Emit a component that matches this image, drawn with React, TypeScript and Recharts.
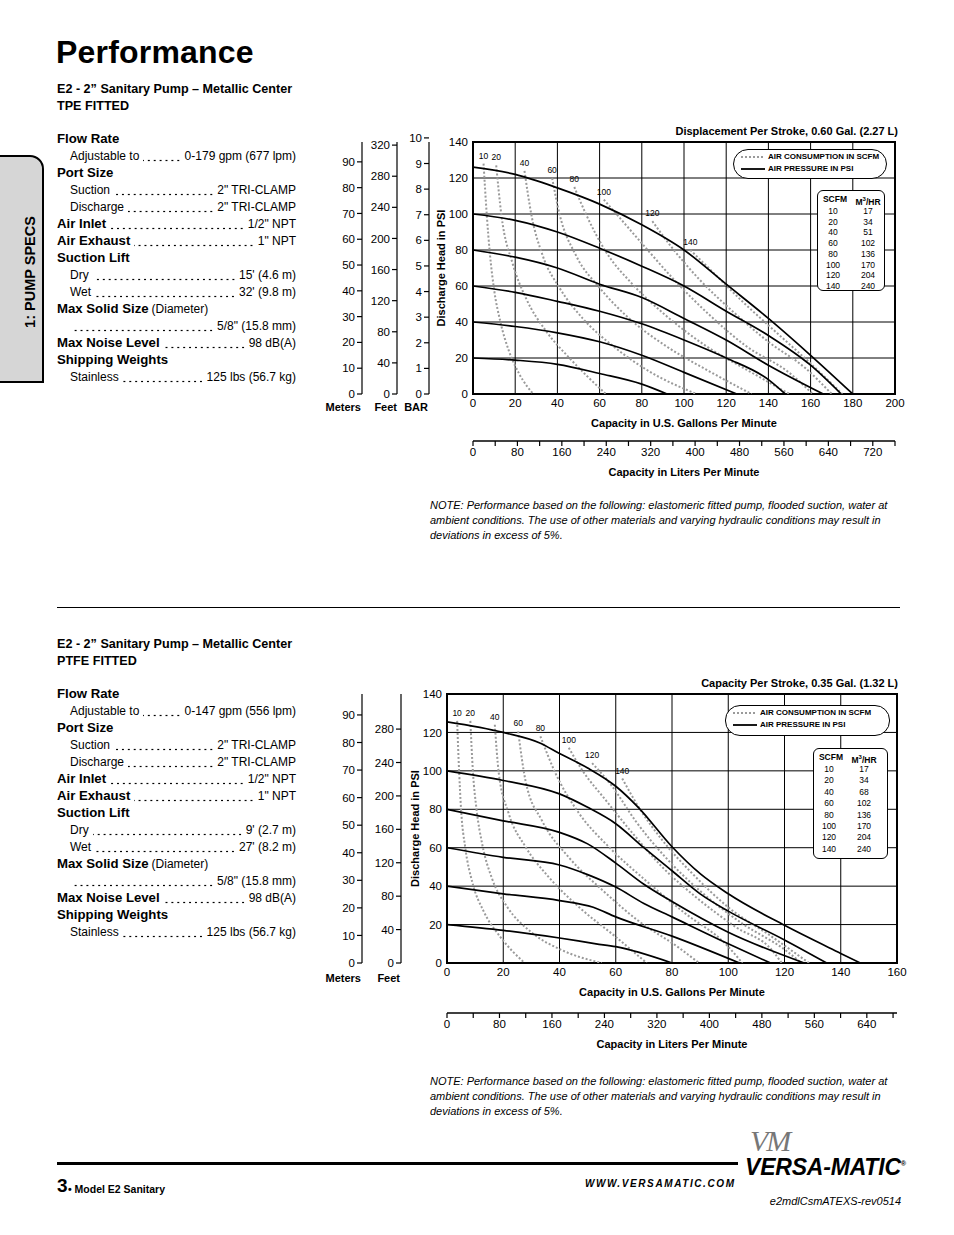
import React from 'react';
import { ComposedChart, Line, XAxis, YAxis, CartesianGrid, ReferenceArea } from 'recharts';

type Pt = [number, number];

const NARROW = '"Liberation Sans Narrow", "Arial Narrow", "Liberation Sans", Arial, sans-serif';
const SANS = '"Liberation Sans", Arial, Helvetica, sans-serif';

// ---------- axis ticks ----------
const psiTicks = [0, 20, 40, 60, 80, 100, 120, 140];
const meterTicks = [0, 10, 20, 30, 40, 50, 60, 70, 80, 90];
const feetTicksTPE = [0, 40, 80, 120, 160, 200, 240, 280, 320];
const feetTicksPTFE = [0, 40, 80, 120, 160, 200, 240, 280];
const barTicks = [0, 1, 2, 3, 4, 5, 6, 7, 8, 9, 10];
const gpmTicksTPE = [0, 20, 40, 60, 80, 100, 120, 140, 160, 180, 200];
const gpmTicksPTFE = [0, 20, 40, 60, 80, 100, 120, 140, 160];
const lpmTicksTPE = [0, 40, 80, 120, 160, 200, 240, 280, 320, 360, 400, 440, 480, 520, 560, 600, 640, 680, 720, 760];
const lpmTicksPTFE = [0, 40, 80, 120, 160, 200, 240, 280, 320, 360, 400, 440, 480, 520, 560, 600, 640, 680];

// ---------- TPE fitted: air pressure curves (gpm, psi) ----------
const tpePsi120: Pt[] = [[0, 126], [20, 122], [40, 114.5], [60, 105.5], [80, 94], [100, 80], [120, 61], [140, 42], [160, 21.5], [180, 0]];
const tpePsi100: Pt[] = [[0, 100], [20, 96.5], [40, 90], [60, 81], [80, 71], [100, 60], [120, 46], [140, 32.5], [160, 16], [174.5, 0]];
const tpePsi80: Pt[] = [[0, 80], [20, 76], [40, 70], [60, 61], [80, 53.6], [100, 42], [120, 30], [140, 16], [166, 0]];
const tpePsi60: Pt[] = [[0, 60], [20, 56.5], [40, 51.5], [60, 46], [80, 39], [100, 30], [120, 20], [140, 8], [148, 0]];
const tpePsi40: Pt[] = [[0, 40], [20, 37.5], [40, 34], [60, 29], [80, 21.5], [100, 12], [125, 0]];
const tpePsi20: Pt[] = [[0, 20], [20, 18.8], [40, 16.5], [60, 11.4], [80, 5.5], [92, 0]];

// ---------- TPE fitted: air consumption curves (gpm, psi) ----------
const tpeScfm10: Pt[] = [[5, 128], [6.5, 100], [8, 78], [10, 58], [13, 40], [17, 24], [22, 11], [28.5, 0]];
const tpeScfm20: Pt[] = [[11, 127], [13.4, 100], [18.9, 72], [25.2, 53], [34.6, 35], [45.7, 20], [54, 10], [63, 0]];
const tpeScfm40: Pt[] = [[24.4, 124], [27.6, 100], [33, 77], [41, 59], [52, 42], [66, 27], [83.5, 12.6], [106, 0]];
const tpeScfm60: Pt[] = [[37.5, 120], [41, 100], [48.8, 77], [60, 59], [74, 42], [91, 27], [112, 12.6], [132, 0]];
const tpeScfm80: Pt[] = [[48, 115], [53.5, 100], [63, 79], [75.6, 61], [91, 44], [110, 27], [131, 12.6], [150, 0]];
const tpeScfm100: Pt[] = [[62, 108], [72.4, 94], [83.5, 79], [96, 62.6], [112, 44], [129, 27], [150, 11.7], [161, 0]];
const tpeScfm120: Pt[] = [[85, 96], [94.5, 81], [107, 64], [123, 46], [140, 29], [157.5, 14.4], [170, 0]];
const tpeScfm140: Pt[] = [[103, 80], [113.4, 68], [127.6, 51.5], [143, 35], [159, 18], [175, 0]];

// ---------- PTFE fitted: air pressure curves ----------
const ptfePsi120: Pt[] = [[0, 125.5], [20, 120], [33, 114.5], [40, 109], [50, 101.5], [60, 92], [68, 81], [80, 60.5], [90, 46.5], [100, 36], [120, 19.6], [140, 5], [147, 0]];
const ptfePsi100: Pt[] = [[0, 100], [20, 95], [40, 88], [50, 81], [60, 72.5], [70, 60], [80, 48], [90, 36], [100, 27], [120, 12], [135, 0]];
const ptfePsi80: Pt[] = [[0, 80], [20, 74], [40, 68], [50, 62], [60, 52], [70, 41], [80, 32], [100, 16], [127, 0]];
const ptfePsi60: Pt[] = [[0, 60], [20, 55], [40, 51], [50, 46], [60, 39.5], [70, 31], [80, 24], [100, 10], [115, 0]];
const ptfePsi40: Pt[] = [[0, 40], [20, 36], [40, 32.5], [52, 29], [60, 24], [80, 14], [104, 0]];
const ptfePsi20: Pt[] = [[0, 20], [20, 17], [40, 13], [53, 10], [60, 8.5], [80, 0]];

// ---------- PTFE fitted: air consumption curves ----------
const ptfeScfm10: Pt[] = [[3.6, 126], [4.3, 100], [5, 80], [6.5, 60], [9, 42], [13, 27], [19, 13.5], [27.6, 0]];
const ptfeScfm20: Pt[] = [[8.3, 126], [9.2, 100], [10.5, 80], [12.5, 62], [16, 44], [21.5, 29], [30, 16], [41, 6.6], [55, 0]];
const ptfeScfm40: Pt[] = [[17, 124], [18.4, 99], [21.9, 78], [27.9, 60.5], [36, 45], [47, 29], [60, 13.6], [71, 0]];
const ptfeScfm60: Pt[] = [[25.3, 120.5], [27.9, 95], [33.8, 74], [43.3, 55], [55.2, 38], [68, 22], [82.4, 8], [89.6, 0]];
const ptfeScfm80: Pt[] = [[33.2, 118], [38.5, 99], [46.9, 78], [57.5, 60.5], [70.6, 43], [84.8, 25.7], [99, 10], [105, 0]];
const ptfeScfm100: Pt[] = [[43.3, 112], [48, 100.5], [56.3, 85], [66, 67.5], [76.5, 50], [88.4, 34.4], [102.6, 18.8], [115.6, 6.6], [119, 0]];
const ptfeScfm120: Pt[] = [[51.6, 104], [58.7, 92], [67, 74], [77.7, 55], [89.6, 38], [105, 20.5], [120.4, 6.6], [126, 0]];
const ptfeScfm140: Pt[] = [[62.3, 96], [68.2, 81], [76.5, 64], [87.2, 46.6], [100, 29], [115.6, 13.6], [128.7, 0]];

const scfmLabels = ['10', '20', '40', '60', '80', '100', '120', '140'];
const m3hrTPE = ['17', '34', '51', '102', '136', '170', '204', '240'];
const m3hrPTFE = ['17', '34', '68', '102', '136', '170', '204', '240'];

const tpePressure = [tpePsi120, tpePsi100, tpePsi80, tpePsi60, tpePsi40, tpePsi20];
const tpeAir = [tpeScfm10, tpeScfm20, tpeScfm40, tpeScfm60, tpeScfm80, tpeScfm100, tpeScfm120, tpeScfm140];
const ptfePressure = [ptfePsi120, ptfePsi100, ptfePsi80, ptfePsi60, ptfePsi40, ptfePsi20];
const ptfeAir = [ptfeScfm10, ptfeScfm20, ptfeScfm40, ptfeScfm60, ptfeScfm80, ptfeScfm100, ptfeScfm120, ptfeScfm140];

// ---------- spec texts ----------
type Spec = { k: 'h' | 'hv' | 'i' | 'hx'; t: string; v?: string; x?: string };
const specTPE: Spec[] = [
  { k: 'h', t: 'Flow Rate' },
  { k: 'i', t: 'Adjustable to', v: '0-179 gpm (677 lpm)' },
  { k: 'h', t: 'Port Size' },
  { k: 'i', t: 'Suction', v: '2" TRI-CLAMP' },
  { k: 'i', t: 'Discharge', v: '2" TRI-CLAMP' },
  { k: 'hv', t: 'Air Inlet', v: '1/2" NPT' },
  { k: 'hv', t: 'Air Exhaust', v: '1" NPT' },
  { k: 'h', t: 'Suction Lift' },
  { k: 'i', t: 'Dry', v: "15' (4.6 m)" },
  { k: 'i', t: 'Wet', v: "32' (9.8 m)" },
  { k: 'hx', t: 'Max Solid Size', x: '(Diameter)' },
  { k: 'i', t: '', v: '5/8" (15.8 mm)' },
  { k: 'hv', t: 'Max Noise Level', v: '98 dB(A)' },
  { k: 'h', t: 'Shipping Weights' },
  { k: 'i', t: 'Stainless', v: '125 lbs (56.7 kg)' },
];
const specPTFE: Spec[] = [
  { k: 'h', t: 'Flow Rate' },
  { k: 'i', t: 'Adjustable to', v: '0-147 gpm (556 lpm)' },
  { k: 'h', t: 'Port Size' },
  { k: 'i', t: 'Suction', v: '2" TRI-CLAMP' },
  { k: 'i', t: 'Discharge', v: '2" TRI-CLAMP' },
  { k: 'hv', t: 'Air Inlet', v: '1/2" NPT' },
  { k: 'hv', t: 'Air Exhaust', v: '1" NPT' },
  { k: 'h', t: 'Suction Lift' },
  { k: 'i', t: 'Dry', v: "9' (2.7 m)" },
  { k: 'i', t: 'Wet', v: "27' (8.2 m)" },
  { k: 'hx', t: 'Max Solid Size', x: '(Diameter)' },
  { k: 'i', t: '', v: '5/8" (15.8 mm)' },
  { k: 'hv', t: 'Max Noise Level', v: '98 dB(A)' },
  { k: 'h', t: 'Shipping Weights' },
  { k: 'i', t: 'Stainless', v: '125 lbs (56.7 kg)' },
];

const noteLines = [
  'NOTE: Performance based on the following: elastomeric fitted pump, flooded suction, water at',
  'ambient conditions. The use of other materials and varying hydraulic conditions may result in',
  'deviations in excess of 5%.',
];

const toData = (pts: Pt[]) => pts.map(([gpm, psi]) => ({ gpm, psi }));

const headStyle: React.CSSProperties = { fontFamily: SANS, fontWeight: 700, fontSize: 13.2, color: '#000' };
const narrowStyle: React.CSSProperties = { fontFamily: NARROW, fontSize: 12, color: '#000' };

function SpecBlock({ rows, top }: { rows: Spec[]; top: number }) {
  return (
    <>
      {rows.map((r, i) => {
        const y = top + i * 17;
        const indent = r.k === 'i';
        const left = indent ? 70 : 57;
        return (
          <div key={i} style={{ position: 'absolute', left, top: y - 9, width: 296 - left, height: 18, display: 'flex', alignItems: 'center', whiteSpace: 'nowrap', lineHeight: '18px' }}>
            <span style={indent ? narrowStyle : headStyle}>{r.t}</span>
            {r.x && <span style={{ ...narrowStyle, marginLeft: 3 }}>{r.x}</span>}
            {r.v !== undefined && (
              <span style={{
                flex: 1, height: 18, marginLeft: r.t ? 4 : 1, marginRight: 3,
                backgroundImage: 'radial-gradient(circle, #000 0.8px, rgba(0,0,0,0) 1.15px)',
                backgroundSize: '5.9px 3px', backgroundRepeat: 'repeat-x', backgroundPosition: 'right 0 top 11.5px',
              }} />
            )}
            {r.v !== undefined && <span style={narrowStyle}>{r.v}</span>}
          </div>
        );
      })}
    </>
  );
}

type ChartCfg = {
  left: number; top: number; width: number; height: number;
  xMax: number; gpmTicks: number[]; lpmMax: number; lpmTicks: number[];
  pressure: Pt[][]; air: Pt[][];
  psiW: number; gpmH: number; lpmH: number;
  bar: boolean; feetMax: number; feetTicks: number[]; feetW: number; meterMax: number;
};

const tickFont = { fill: '#000', fontSize: 11.5, fontFamily: NARROW };
const titleFont = { fill: '#000', fontSize: 11, fontFamily: NARROW, fontWeight: 700 };
const auxLine = { stroke: '#000', strokeWidth: 1.2 };

// y-axis ids are named so that the psi axis sits next to the plot, then BAR, Feet and Meters outward
const PSI = 'y1psi';
const BAR = 'y2bar';
const FEET = 'y3feet';
const METERS = 'y4meters';

function PerfChart(c: ChartCfg) {
  return (
    <div style={{ position: 'absolute', left: c.left, top: c.top }}>
      <ComposedChart width={c.width} height={c.height} margin={{ top: 14, right: 15, bottom: 4, left: 0 }}>
        <XAxis xAxisId="gpm" dataKey="gpm" type="number" domain={[0, c.xMax]} ticks={c.gpmTicks} interval={0}
          allowDataOverflow axisLine={false} tickLine={false} tickSize={2} tickMargin={3} height={c.gpmH} tick={tickFont}
          label={{ value: 'Capacity in U.S. Gallons Per Minute', position: 'insideBottom', offset: c.gpmH - 33, style: titleFont }} />
        <XAxis xAxisId="lpm" dataKey="lpm" type="number" domain={[0, c.lpmMax]} ticks={c.lpmTicks} interval={0}
          allowDataOverflow axisLine={{ stroke: '#000', strokeWidth: 1.5 }} tickLine={auxLine}
          tickSize={5} tickMargin={2} height={c.lpmH} tick={tickFont}
          tickFormatter={(v: number) => (v % 80 === 0 ? String(v) : '')}
          label={{ value: 'Capacity in Liters Per Minute', position: 'insideBottom', offset: 5, style: titleFont }} />
        <YAxis yAxisId={PSI} type="number" domain={[0, 140]} ticks={psiTicks} interval={0} allowDataOverflow
          axisLine={false} tickLine={false} tickSize={3} tickMargin={2} width={c.psiW} tick={tickFont}
          label={{ value: 'Discharge Head in PSI', angle: -90, position: 'insideLeft', offset: c.psiW - 32, style: { ...titleFont, textAnchor: 'middle' } }} />
        {c.bar && (
          <YAxis yAxisId={BAR} type="number" domain={[0, 9.84]} ticks={barTicks} interval={0} allowDataOverflow
            axisLine={auxLine} tickLine={auxLine} tickSize={5} tickMargin={2} width={32} tick={tickFont} />
        )}
        <YAxis yAxisId={FEET} type="number" domain={[0, c.feetMax]} ticks={c.feetTicks} interval={0} allowDataOverflow
          axisLine={auxLine} tickLine={auxLine} tickSize={5} tickMargin={2} width={c.feetW} tick={tickFont} />
        <YAxis yAxisId={METERS} type="number" domain={[0, c.meterMax]} ticks={meterTicks} interval={0} allowDataOverflow
          axisLine={auxLine} tickLine={auxLine} tickSize={5} tickMargin={2} width={40} tick={tickFont} />
        <CartesianGrid xAxisId="gpm" yAxisId={PSI} stroke="#000" strokeWidth={1} />
        <Line xAxisId="lpm" yAxisId={PSI} data={c.lpmTicks.map((lpm) => ({ lpm }))} dataKey="psi" stroke="none"
          dot={false} activeDot={false} isAnimationActive={false} />
        {c.air.map((pts, i) => (
          <Line key={'a' + i} xAxisId="gpm" yAxisId={PSI} data={toData(pts)} dataKey="psi" type="monotone"
            stroke="#9a9a9a" strokeWidth={2} strokeDasharray="2 2" dot={false} activeDot={false} isAnimationActive={false}
            label={(p: any) => (p.index === 0 ? (
              <text key={'l' + i} x={p.x} y={p.y - 5} textAnchor="middle" fontSize={8.5} fontFamily={NARROW} fill="#000">{scfmLabels[i]}</text>
            ) : <g key={'n' + i + '-' + p.index} />)} />
        ))}
        {c.pressure.map((pts, i) => (
          <Line key={'p' + i} xAxisId="gpm" yAxisId={PSI} data={toData(pts)} dataKey="psi" type="monotone"
            stroke="#000" strokeWidth={1.7} dot={false} activeDot={false} isAnimationActive={false} />
        ))}
        <ReferenceArea xAxisId="gpm" yAxisId={PSI} x1={0} x2={c.xMax} y1={0} y2={140} fill="none" fillOpacity={0} stroke="#000" strokeWidth={2} ifOverflow="visible" />
      </ComposedChart>
    </div>
  );
}

function LegendBox({ left, top, width, height }: { left: number; top: number; width: number; height: number }) {
  const txt: React.CSSProperties = { fontFamily: NARROW, fontWeight: 700, fontSize: 8, color: '#000', whiteSpace: 'nowrap', lineHeight: '12px' };
  return (
    <div style={{ position: 'absolute', left, top, width, height, border: '1.5px solid #000', borderRadius: 15, boxSizing: 'border-box', background: '#fff' }}>
      <svg style={{ position: 'absolute', left: 7, top: 0 }} width={26} height={height - 3}>
        <line x1={0} x2={24} y1={7} y2={7} stroke="#9a9a9a" strokeWidth={2} strokeDasharray="2 2" />
        <line x1={0} x2={24} y1={19} y2={19} stroke="#000" strokeWidth={1.8} />
      </svg>
      <div style={{ position: 'absolute', left: 34, top: 1, ...txt }}>AIR CONSUMPTION IN SCFM</div>
      <div style={{ position: 'absolute', left: 34, top: 13, ...txt }}>AIR PRESSURE IN PSI</div>
    </div>
  );
}

function ScfmTable({ left, top, width, height, m3, pitch }: { left: number; top: number; width: number; height: number; m3: string[]; pitch: number }) {
  const cell: React.CSSProperties = { fontFamily: NARROW, fontSize: 8.5, color: '#000', position: 'absolute', textAlign: 'center', lineHeight: '10px' };
  return (
    <div style={{ position: 'absolute', left, top, width, height, border: '1.5px solid #000', borderRadius: 6, boxSizing: 'border-box', background: '#fff' }}>
      <div style={{ ...cell, left: 2, width: 30, top: 3, fontWeight: 700 }}>SCFM</div>
      <div style={{ ...cell, left: 34, width: 32, top: 3, fontWeight: 700 }}>M<sup style={{ fontSize: 6 }}>3</sup>/HR</div>
      {scfmLabels.map((s, i) => (
        <React.Fragment key={s}>
          <div style={{ ...cell, left: 2, width: 26, top: 15 + i * pitch }}>{s}</div>
          <div style={{ ...cell, left: 36, width: 28, top: 15 + i * pitch }}>{m3[i]}</div>
        </React.Fragment>
      ))}
    </div>
  );
}

const abs = (left: number, top: number, style: React.CSSProperties, text: React.ReactNode, key?: string) => (
  <div key={key} style={{ position: 'absolute', left, top, whiteSpace: 'nowrap', color: '#000', ...style }}>{text}</div>
);

export default function App() {
  const boldNarrow: React.CSSProperties = { fontFamily: NARROW, fontWeight: 700, fontSize: 11 };
  const noteStyle: React.CSSProperties = { fontFamily: NARROW, fontStyle: 'italic', fontSize: 11, lineHeight: '15px' };
  return (
    <div style={{ position: 'absolute', left: 0, top: 0, width: 954, height: 1235, background: '#fff', overflow: 'hidden' }}>
      {/* side tab */}
      <div style={{ position: 'absolute', left: -3, top: 155, width: 47, height: 228, background: '#d6d6d6', border: '2px solid #000', borderTopRightRadius: 14, boxSizing: 'border-box' }} />
      <div style={{ position: 'absolute', left: 30, top: 272, transform: 'translate(-50%, -50%) rotate(-90deg)', fontFamily: SANS, fontWeight: 700, fontSize: 14.5, whiteSpace: 'nowrap' }}>1: PUMP SPECS</div>

      {abs(56, 33, { fontFamily: SANS, fontWeight: 900, fontSize: 32, lineHeight: '38px', letterSpacing: '0.2px' }, 'Performance')}

      {abs(57, 81, { ...headStyle, fontSize: 12.6, lineHeight: '16px' }, 'E2 - 2\u201D Sanitary Pump \u2013 Metallic Center')}
      {abs(57, 98, { ...headStyle, fontSize: 12.6, lineHeight: '16px' }, 'TPE FITTED')}
      <SpecBlock rows={specTPE} top={139} />

      {abs(57, 636, { ...headStyle, fontSize: 12.6, lineHeight: '16px' }, 'E2 - 2\u201D Sanitary Pump \u2013 Metallic Center')}
      {abs(57, 653, { ...headStyle, fontSize: 12.6, lineHeight: '16px' }, 'PTFE FITTED')}
      <SpecBlock rows={specPTFE} top={694} />

      {/* separator */}
      <div style={{ position: 'absolute', left: 57, top: 607, width: 843, height: 1, background: '#000' }} />

      {/* top chart */}
      <div style={{ position: 'absolute', right: 954 - 898, top: 124, ...boldNarrow, lineHeight: '14px', whiteSpace: 'nowrap' }}>Displacement Per Stroke, 0.60 Gal. (2.27 L)</div>
      <PerfChart left={322} top={128} width={588} height={357} xMax={200} gpmTicks={gpmTicksTPE} lpmMax={760} lpmTicks={lpmTicksTPE}
        pressure={tpePressure} air={tpeAir} psiW={44} gpmH={47} lpmH={40} bar feetMax={324} feetTicks={feetTicksTPE} feetW={35} meterMax={97.7} />
      <LegendBox left={733} top={149} width={154} height={30} />
      <ScfmTable left={817} top={190} width={68} height={101} m3={m3hrTPE} pitch={10.7} />
      <div style={{ position: 'absolute', right: 954 - 361, top: 400, ...boldNarrow, lineHeight: '14px' }}>Meters</div>
      <div style={{ position: 'absolute', right: 954 - 397, top: 400, ...boldNarrow, lineHeight: '14px' }}>Feet</div>
      <div style={{ position: 'absolute', right: 954 - 428, top: 400, ...boldNarrow, lineHeight: '14px' }}>BAR</div>
      {noteLines.map((t, i) => abs(430, 498 + i * 15, noteStyle, t, 'n1' + i))}

      {/* bottom chart */}
      <div style={{ position: 'absolute', right: 954 - 898, top: 676, ...boldNarrow, lineHeight: '14px', whiteSpace: 'nowrap' }}>Capacity Per Stroke, 0.35 Gal. (1.32 L)</div>
      <PerfChart left={322} top={680} width={590} height={377} xMax={160} gpmTicks={gpmTicksPTFE} lpmMax={686} lpmTicks={lpmTicksPTFE}
        pressure={ptfePressure} air={ptfeAir} psiW={46} gpmH={50} lpmH={40} bar={false} feetMax={322} feetTicks={feetTicksPTFE} feetW={39} meterMax={97.6} />
      <LegendBox left={725} top={705} width={165} height={31} />
      <ScfmTable left={813} top={748} width={75} height={111} m3={m3hrPTFE} pitch={11.4} />
      <div style={{ position: 'absolute', right: 954 - 361, top: 971, ...boldNarrow, lineHeight: '14px' }}>Meters</div>
      <div style={{ position: 'absolute', right: 954 - 400, top: 971, ...boldNarrow, lineHeight: '14px' }}>Feet</div>
      {noteLines.map((t, i) => abs(430, 1074 + i * 15, noteStyle, t, 'n2' + i))}

      {/* footer */}
      <div style={{ position: 'absolute', left: 57, top: 1162, width: 681, height: 3, background: '#000' }} />
      {abs(57, 1175, { fontFamily: NARROW, fontWeight: 700, fontSize: 19, lineHeight: '22px' }, '3')}
      {abs(68, 1181, { fontFamily: NARROW, fontWeight: 700, fontSize: 10.5, lineHeight: '16px' }, '\u2022 Model E2 Sanitary')}
      {abs(585, 1177, { fontFamily: SANS, fontWeight: 700, fontStyle: 'italic', fontSize: 10, letterSpacing: '1.6px', lineHeight: '14px' }, 'WWW.VERSAMATIC.COM')}
      {abs(750, 1126, { fontFamily: '"Liberation Serif", serif', fontStyle: 'italic', fontSize: 30, color: '#777', lineHeight: '30px', letterSpacing: '-2px' }, 'VM')}
      {abs(745, 1151, { fontFamily: NARROW, fontWeight: 700, fontStyle: 'italic', fontSize: 23, lineHeight: '26px', letterSpacing: '-0.2px' }, <>VERSA-MATIC<sup style={{ fontSize: 7 }}>®</sup></>)}
      <div style={{ position: 'absolute', right: 954 - 901, top: 1194, fontFamily: NARROW, fontStyle: 'italic', fontSize: 11, lineHeight: '14px', whiteSpace: 'nowrap' }}>e2mdlCsmATEXS-rev0514</div>
    </div>
  );
}
